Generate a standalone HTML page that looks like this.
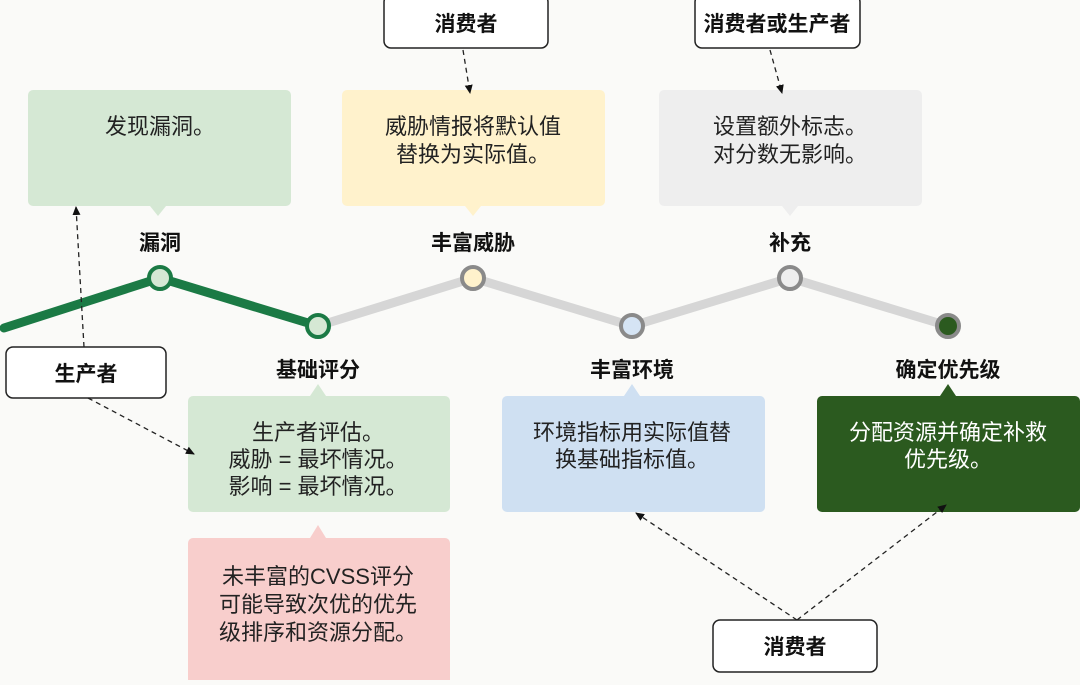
<!DOCTYPE html>
<html><head><meta charset="utf-8"><style>
body{margin:0;width:1080px;height:680px;background:#fafaf8;overflow:hidden;font-family:"Liberation Sans","Noto Sans CJK SC",sans-serif;}
</style></head><body>
<svg width="1080" height="680" viewBox="0 0 1080 680" xmlns="http://www.w3.org/2000/svg" font-family="Liberation Sans, Noto Sans CJK SC, sans-serif">
<defs><marker id="a" markerWidth="10" markerHeight="10" refX="8" refY="5" orient="auto" markerUnits="userSpaceOnUse"><path d="M0,1 L9,5 L0,9 Z" fill="#111"/></marker></defs>
<rect x="28" y="90" width="263" height="116" rx="5" fill="#d5e8d4"/><path d="M150,206 L158,216 L166,206Z" fill="#d5e8d4"/>
<rect x="342" y="90" width="263" height="116" rx="5" fill="#fff2cc"/><path d="M465,206 L473,216 L481,206Z" fill="#fff2cc"/>
<rect x="659" y="90" width="263" height="116" rx="5" fill="#eeeeee"/><path d="M782,206 L790,216 L798,206Z" fill="#eeeeee"/>
<g font-size="22" fill="#222" text-anchor="middle">
<text x="160" y="134">发现漏洞。</text>
<text x="473" y="134">威胁情报将默认值</text><text x="473" y="162">替换为实际值。</text>
<text x="790" y="134">设置额外标志。</text><text x="790" y="162">对分数无影响。</text>
</g>
<rect x="188" y="396" width="262" height="116" rx="5" fill="#d5e8d4"/><path d="M310,396 L318,384 L326,396Z" fill="#d5e8d4"/>
<rect x="502" y="396" width="263" height="116" rx="5" fill="#cfe0f2"/><path d="M624,396 L632,384 L640,396Z" fill="#cfe0f2"/>
<rect x="817" y="396" width="263" height="116" rx="5" fill="#2b5a1f"/><path d="M940,396 L948,384 L956,396Z" fill="#2b5a1f"/>
<rect x="188" y="538" width="262" height="150" rx="5" fill="#f8cecc"/><path d="M310,538 L318,525 L326,538Z" fill="#f8cecc"/>
<g font-size="22" fill="#222" text-anchor="middle">
<text x="318" y="440">生产者评估。</text><text x="318" y="467">威胁 = 最坏情况。</text><text x="318" y="494">影响 = 最坏情况。</text>
<text x="632" y="440">环境指标用实际值替</text><text x="632" y="467">换基础指标值。</text>
<text x="948" y="440" fill="#fff">分配资源并确定补救</text><text x="948" y="467" fill="#fff">优先级。</text>
<text x="318" y="584">未丰富的CVSS评分</text><text x="318" y="612">可能导致次优的优先</text><text x="318" y="640">级排序和资源分配。</text>
</g>
<polyline points="318,326 473,278 632,326 790,278 948,326" fill="none" stroke="#d6d6d6" stroke-width="9" stroke-linecap="round"/>
<polyline points="4,328 160,278 318,326" fill="none" stroke="#1b7a45" stroke-width="9" stroke-linecap="round"/>
<circle cx="160" cy="278" r="11" fill="#d5e8d4" stroke="#1b7a45" stroke-width="4"/>
<circle cx="318" cy="326" r="11" fill="#d5e8d4" stroke="#1b7a45" stroke-width="4"/>
<circle cx="473" cy="278" r="11" fill="#fff2cc" stroke="#8a8a8a" stroke-width="4"/>
<circle cx="632" cy="326" r="11" fill="#d5e4f4" stroke="#8a8a8a" stroke-width="4"/>
<circle cx="790" cy="278" r="11" fill="#eeeeee" stroke="#8a8a8a" stroke-width="4"/>
<circle cx="948" cy="326" r="11" fill="#2b5a1f" stroke="#8a8a8a" stroke-width="4"/>
<g font-size="21" font-weight="bold" fill="#111" text-anchor="middle">
<text x="160" y="250">漏洞</text><text x="473" y="250">丰富威胁</text><text x="790" y="250">补充</text>
<text x="318" y="377">基础评分</text><text x="632" y="377">丰富环境</text><text x="948" y="377">确定优先级</text>
</g>
<g fill="#fff" stroke="#222" stroke-width="1.5">
<rect x="6" y="347" width="160" height="51" rx="7"/>
<rect x="384" y="-5" width="164" height="53" rx="7"/>
<rect x="695" y="-5" width="165" height="53" rx="7"/>
<rect x="713" y="620" width="164" height="52" rx="7"/>
</g>
<g font-size="21" font-weight="bold" fill="#111" text-anchor="middle">
<text x="86" y="381">生产者</text><text x="466" y="31">消费者</text><text x="777" y="31">消费者或生产者</text><text x="795" y="654">消费者</text>
</g>
<g stroke="#222" stroke-width="1.3" stroke-dasharray="5,4" fill="none" marker-end="url(#a)">
<line x1="84" y1="347" x2="76" y2="207"/>
<line x1="88" y1="398" x2="194" y2="454"/>
<line x1="463" y1="50" x2="470" y2="93"/>
<line x1="770" y1="50" x2="782" y2="93"/>
<line x1="797" y1="620" x2="636" y2="513"/>
<line x1="797" y1="620" x2="946" y2="505"/>
</g>
</svg>
</body></html>
